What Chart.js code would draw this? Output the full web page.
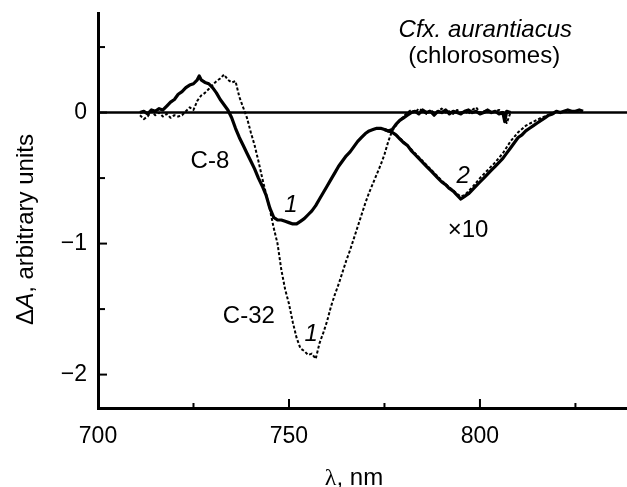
<!DOCTYPE html>
<html>
<head>
<meta charset="utf-8">
<script src="https://cdn.jsdelivr.net/npm/chart.js@4.4.1/dist/chart.umd.min.js"></script>
<style>
html, body { margin: 0; padding: 0; background: #fff; }
#wrap { width: 627px; height: 487px; }
</style>
</head>
<body>
<div id="wrap"><canvas id="spectra" width="627" height="487"></canvas></div>
<script>
// C-8, curve 1
var c8Nm = [711,712,713,714,715,716,717,718,719,720,721,722,723,724,725,726,726.5,
    727,728,729,730,731,732,733,734,735,736,737,738,739,740,741,742,743,744,745,746,
    747,748,749,750,751,752,753,754,755,756,757,758,759,760,761,762,763,764,765,766,
    767,768,769,770,771,772,773,774,775,776,777,778,779,780,781,782,783,784,785,786,
    787,788,789,790,791,792,793,794,795,796,797,798,799,800,801,802,803,804,805,806,806.5,807,808];
var c8Abs = [0.00,0.01,-0.01,0.02,0.01,0.03,0.02,0.05,0.08,0.10,0.14,0.16,0.19,0.21,0.22,0.25,0.28,
    0.25,0.23,0.22,0.19,0.15,0.10,0.06,0.02,-0.04,-0.12,
    -0.19,-0.25,-0.31,-0.37,-0.43,-0.50,-0.56,-0.63,-0.73,-0.80,
    -0.82,-0.82,-0.83,-0.84,-0.85,-0.85,-0.83,-0.81,-0.78,-0.75,
    -0.71,-0.66,-0.61,-0.56,-0.51,-0.46,-0.41,-0.37,-0.33,-0.30,
    -0.26,-0.22,-0.19,-0.16,-0.14,-0.13,-0.12,-0.12,-0.13,-0.14,
    -0.13,-0.09,-0.06,-0.04,-0.02,0.00,0.01,-0.01,0.02,0.00,
    0.01,-0.02,0.01,0.00,0.02,-0.01,0.01,0.00,-0.01,0.01,
    0.02,0.00,0.01,-0.01,0.00,0.02,0.00,0.01,-0.01,0.00,-0.07,0.01,0.00];

// C-8, curve 2 (x10)
var c8x10Nm = [775,776,777,778,779,780,781,782,783,784,785,786,787,788,789,790,791,792,793,794,
    795,796,797,798,799,800,801,802,803,804,805,806,807,808,809,810,811,812,813,814,
    815,816,817,818,819,820,821,822,823,824,825,826,827];
var c8x10Abs = [-0.13,-0.14,-0.15,-0.17,-0.20,-0.23,-0.25,-0.29,-0.32,-0.35,
    -0.38,-0.41,-0.44,-0.47,-0.50,-0.53,-0.55,-0.58,-0.60,-0.63,
    -0.66,-0.64,-0.62,-0.59,-0.56,-0.53,-0.50,-0.47,-0.44,-0.41,
    -0.38,-0.35,-0.31,-0.27,-0.23,-0.19,-0.17,-0.14,-0.12,-0.10,
    -0.08,-0.06,-0.04,-0.02,-0.01,0.01,0.00,0.01,0.02,0.01,0.01,0.02,0.01];

// C-32, curve 1
var c32Nm = [711,712,713,714,715,716,717,718,719,720,721,722,723,724,725,726,727,728,729,730,
    731,732,733,734,735,736,737,738,739,740,741,742,743,744,745,746,747,748,749,750,
    751,752,753,754,755,756,757,758,759,760,761,762,763,764,765,766,767,768,769,770,
    771,772,773,774,775,776,777,778,779,780,781,782,783,784,785,786,787,788,789,790,
    791,792,793,794,795,796,797,798,799,800,801,802,803,804,805,806,807,808];
var c32Abs = [-0.02,-0.05,-0.03,0.01,-0.02,0.00,-0.03,-0.01,-0.04,-0.02,
    -0.03,-0.02,0.01,0.04,0.02,0.09,0.13,0.15,0.18,0.21,
    0.24,0.26,0.29,0.25,0.23,0.24,0.12,0.04,-0.04,-0.15,
    -0.25,-0.37,-0.50,-0.62,-0.74,-0.88,-1.00,-1.20,-1.35,-1.46,
    -1.60,-1.72,-1.80,-1.82,-1.85,-1.84,-1.88,-1.76,-1.68,-1.59,
    -1.48,-1.39,-1.31,-1.22,-1.13,-1.05,-0.96,-0.87,-0.78,-0.69,
    -0.61,-0.54,-0.47,-0.40,-0.32,-0.22,-0.14,-0.10,-0.06,-0.03,
    0.00,0.02,0.00,0.03,0.01,-0.01,0.02,0.00,0.01,0.03,
    0.00,0.01,-0.01,0.02,0.00,0.01,-0.01,0.02,0.04,0.00,
    0.01,0.02,0.00,0.01,0.02,0.00,-0.08,0.00];

// C-32, curve 2 (x10)
var c32x10Nm = [777,778,780,782,784,786,788,790,792,794,795,796,798,800,802,804,806,808,810,812,814,816,818,820];
var c32x10Abs = [-0.15,-0.17,-0.22,-0.28,-0.34,-0.40,-0.46,-0.52,-0.57,-0.62,-0.64,-0.63,
    -0.57,-0.50,-0.44,-0.38,-0.31,-0.22,-0.15,-0.10,-0.07,-0.04,-0.02,0.00];

var xTickLabels = [700, 750, 800];
var xMinorTicks = [725, 775, 825];
var yTickLabels = [-2, -1, 0];
var yMinorTicks = [0.5, -0.5, -1.5];

// text on the plot, placed in data units
var noteText = ["Cfx. aurantiacus", "(chlorosomes)", "C-8", "C-32", "1", "1", "2", "\u00d710"];
var noteNm = [801.4, 801.1, 729.3, 739.5, 750.5, 755.8, 795.6, 796.9];
var noteDA = [0.579, 0.377, -0.423, -1.604, -0.756, -1.746, -0.537, -0.949];
var noteItalic = [true, false, false, false, true, true, true, false];

var sans = "'Liberation Sans', Arial, Helvetica, sans-serif";

function pts(xs, ys) {
    return xs.map(function (x, i) { return { x: x, y: ys[i] }; });
}

function drawRun(ctx, parts, x, y) {
    // parts: [text, font]; left aligned run of mixed fonts
    parts.forEach(function (p) {
        ctx.font = p[1];
        ctx.fillText(p[0], x, y);
        x += ctx.measureText(p[0]).width;
    });
}

function runWidth(ctx, parts) {
    var w = 0;
    parts.forEach(function (p) { ctx.font = p[1]; w += ctx.measureText(p[0]).width; });
    return w;
}

var decor = {
    id: "decor",
    beforeDatasetsDraw: function (chart) {
        var ctx = chart.ctx, a = chart.chartArea, x = chart.scales.x, y = chart.scales.y;
        ctx.save();
        ctx.strokeStyle = "#000";
        // zero line
        ctx.lineWidth = 2.4;
        var y0 = y.getPixelForValue(0);
        ctx.beginPath();
        ctx.moveTo(a.left, y0);
        ctx.lineTo(a.right, y0);
        ctx.stroke();
        // inward ticks
        ctx.lineWidth = 2;
        yTickLabels.concat(yMinorTicks).forEach(function (v) {
            var len = yMinorTicks.indexOf(v) >= 0 ? 7 : 9;
            var p = y.getPixelForValue(v);
            ctx.beginPath();
            ctx.moveTo(a.left, p);
            ctx.lineTo(a.left + len, p);
            ctx.stroke();
        });
        xTickLabels.concat(xMinorTicks).forEach(function (v) {
            var len = xMinorTicks.indexOf(v) >= 0 ? 5 : 9;
            var p = x.getPixelForValue(v);
            ctx.beginPath();
            ctx.moveTo(p, a.bottom);
            ctx.lineTo(p, a.bottom - len);
            ctx.stroke();
        });
        ctx.restore();
    },
    afterDraw: function (chart) {
        var ctx = chart.ctx, a = chart.chartArea, x = chart.scales.x, y = chart.scales.y;
        ctx.save();
        ctx.fillStyle = "#000";
        ctx.textAlign = "center";
        ctx.textBaseline = "alphabetic";
        noteText.forEach(function (t, i) {
            ctx.font = (noteItalic[i] ? "italic " : "") + "24px " + sans;
            ctx.fillText(t, x.getPixelForValue(noteNm[i]), y.getPixelForValue(noteDA[i]));
        });

        // axis titles
        ctx.textAlign = "left";
        var xt = [["\u03bb", "24px 'Liberation Serif', 'Times New Roman', serif"], [", nm", "24px " + sans]];
        drawRun(ctx, xt, a.left + 256 - runWidth(ctx, xt) / 2, chart.height - 2);

        var yt = [["\u0394", "24px " + sans], ["A", "italic 24px " + sans], [", arbitrary units", "24px " + sans]];
        ctx.translate(33, (a.top + a.bottom) / 2 + 19);
        ctx.rotate(-Math.PI / 2);
        drawRun(ctx, yt, -runWidth(ctx, yt) / 2, 0);
        ctx.restore();
    }
};

var ctx = document.getElementById("spectra");

var spectraChart = new Chart(ctx, {
    type: "line",
    data: {
        datasets: [
            {
                data: pts(c32Nm, c32Abs),
                borderColor: "#000",
                borderWidth: 2,
                borderDash: [3, 2]
            },
            {
                data: pts(c32x10Nm, c32x10Abs),
                borderColor: "#000",
                borderWidth: 2,
                borderDash: [3, 2]
            },
            {
                data: pts(c8Nm, c8Abs),
                borderColor: "#000",
                borderWidth: 3.2
            },
            {
                data: pts(c8x10Nm, c8x10Abs),
                borderColor: "#000",
                borderWidth: 3.2
            }
        ]
    },
    options: {
        responsive: false,
        animation: false,
        elements: {
            point: { radius: 0 },
            line: { tension: 0, borderJoinStyle: "round", borderCapStyle: "butt" }
        },
        layout: { padding: { top: 13, right: 0, bottom: 0, left: 0 } },
        plugins: {
            legend: { display: false },
            tooltip: { enabled: false }
        },
        scales: {
            x: {
                type: "linear",
                min: 700,
                max: 838.5,
                afterBuildTicks: function (s) {
                    s.ticks = xTickLabels.map(function (v) { return { value: v }; });
                },
                afterFit: function (s) {
                    s.height = 79;
                    s.paddingLeft = 0;
                    s.paddingRight = 0;
                },
                grid: { display: false, drawTicks: false },
                border: { display: true, color: "#000", width: 3 },
                ticks: {
                    color: "#000",
                    padding: 15,
                    maxRotation: 0,
                    font: { family: sans, size: 23 }
                }
            },
            y: {
                min: -2.255,
                max: 0.76,
                afterBuildTicks: function (s) {
                    s.ticks = yTickLabels.map(function (v) { return { value: v }; });
                },
                afterFit: function (s) {
                    s.width = 98;
                    s.paddingTop = 0;
                    s.paddingBottom = 0;
                },
                grid: { display: false, drawTicks: false },
                border: { display: true, color: "#000", width: 3 },
                ticks: {
                    color: "#000",
                    padding: 11,
                    font: { family: sans, size: 23 },
                    callback: function (v) { return v === 0 ? "0" : "\u2212" + Math.abs(v); }
                }
            }
        }
    },
    plugins: [decor]
});
</script>
</body>
</html>
